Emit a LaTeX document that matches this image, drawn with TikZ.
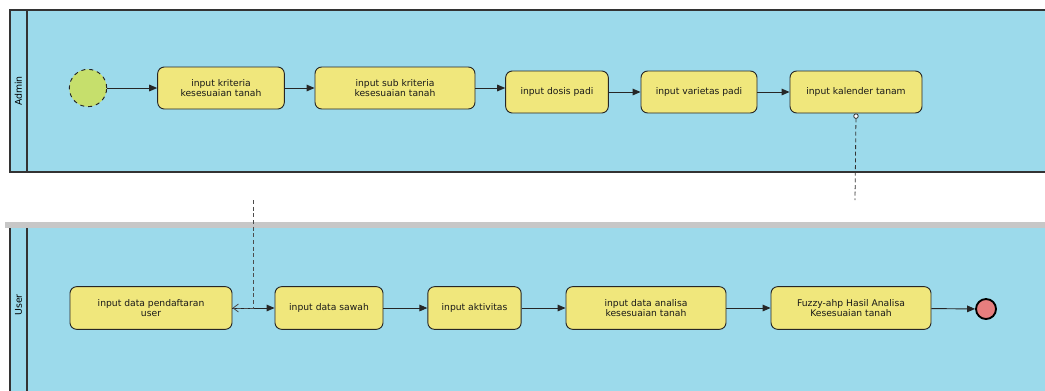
\documentclass[tikz,border=0pt]{standalone}
\usepackage{fontspec}
\setmainfont{DejaVu Sans}
\usetikzlibrary{arrows.meta}

\definecolor{laneblue}{HTML}{9CDAEB}
\definecolor{actyellow}{HTML}{F0E77C}
\definecolor{startgreen}{HTML}{C6DF6C}
\definecolor{endred}{HTML}{E67E7E}

\begin{document}
\begin{tikzpicture}[x=0.75pt, y=-0.75pt,
    >={Triangle[length=6pt,width=5pt]},
    act/.style={draw=black!85, line width=0.7pt, fill=actyellow, rounded corners=5pt,
      minimum height=31.5pt, align=center, inner sep=1pt, text=black!90,
      font=\fontsize{6.9}{8}\selectfont},
    flow/.style={->, line width=0.7pt, black!85}]
    % --- 1. Parameters ---
    \def\laneL{10}
    \def\laneR{1048}
    \def\headR{27}

    \useasboundingbox[fill=white] (0,0) rectangle (1045,390);

    % --- 2. Swimlanes ---
    % Admin
    \fill[laneblue] (\laneL,10) rectangle (\laneR,172);
    \draw[line width=1.2pt, black!80] (\laneR,10) -- (\laneL,10) -- (\laneL,172) -- (\laneR,172);
    \draw[line width=1.2pt, black!80] (\headR,10) -- (\headR,172);
    \node[rotate=90, font=\fontsize{7}{8}\selectfont] (lblAdmin) at (18.5,91) {Admin};
    % User
    \fill[laneblue] (\laneL,227) rectangle (\laneR,392);
    \fill[black!22] (5,222) rectangle (\laneR,228);
    \draw[line width=1.2pt, black!80] (\laneL,228) -- (\laneL,392);
    \draw[line width=1.2pt, black!80] (\headR,228) -- (\headR,392);
    \node[rotate=90, font=\fontsize{7}{8}\selectfont] (lblUser) at (18.5,305) {User};

    % --- 3. Admin activities ---
    \node[circle, draw=black!85, dashed, line width=0.7pt, fill=startgreen, minimum size=28pt, inner sep=0pt] (start) at (88,88) {};
    \node[act, minimum width=95pt] (kriteria) at (221,88) {input kriteria\\kesesuaian tanah};
    \node[act, minimum width=120pt] (subkrit) at (395,88) {input sub kriteria\\kesesuaian tanah};
    \node[act, minimum width=77pt] (dosis) at (557,92) {input dosis padi};
    \node[act, minimum width=87pt] (varietas) at (699,92) {input varietas padi};
    \node[act, minimum width=99pt] (kalender) at (856,92) {input kalender tanam};

    \draw[flow] (start) -- (kriteria);
    \draw[flow] (kriteria) -- (subkrit);
    \draw[flow] (subkrit.east) -- (dosis.west |- subkrit.east);
    \draw[flow] (dosis) -- (varietas);
    \draw[flow] (varietas) -- (kalender);

    % --- 4. User activities ---
    \node[act, minimum width=121.5pt, minimum height=32pt] (daftar) at (151,308) {input data pendaftaran\\user};
    \node[act, minimum width=81pt, minimum height=32pt] (sawah) at (329,308) {input data sawah};
    \node[act, minimum width=70pt, minimum height=32pt] (aktivitas) at (474.5,308) {input aktivitas};
    \node[act, minimum width=120pt, minimum height=32pt] (analisa) at (646,308) {input data analisa\\kesesuaian tanah};
    \node[act, minimum width=120pt, minimum height=32pt] (fuzzy) at (851,308) {Fuzzy-ahp Hasil Analisa\\Kesesuaian tanah};
    \node[circle, draw=black, line width=1.4pt, fill=endred, minimum size=15pt, inner sep=0pt] (stop) at (986,309) {};

    \draw[flow] (daftar) -- (sawah);
    \draw[flow] (sawah) -- (aktivitas);
    \draw[flow] (aktivitas) -- (analisa);
    \draw[flow] (analisa) -- (fuzzy);
    \draw[flow] (fuzzy) -- (stop);

    % --- 5. Object flow across the page break ---
    \coordinate (brkA) at (855,200);
    \coordinate (brkB) at (253,200);
    \draw[dash pattern=on 3pt off 2pt, line width=0.6pt, black!80, {Circle[open, fill=white, length=4pt]}-] (kalender.south) -- (brkA);
    \draw[dash pattern=on 3pt off 2pt, line width=0.6pt, black!70, -{Straight Barb[length=4pt, width=6pt]}] (brkB) |- (daftar.east);
\end{tikzpicture}
\end{document}
